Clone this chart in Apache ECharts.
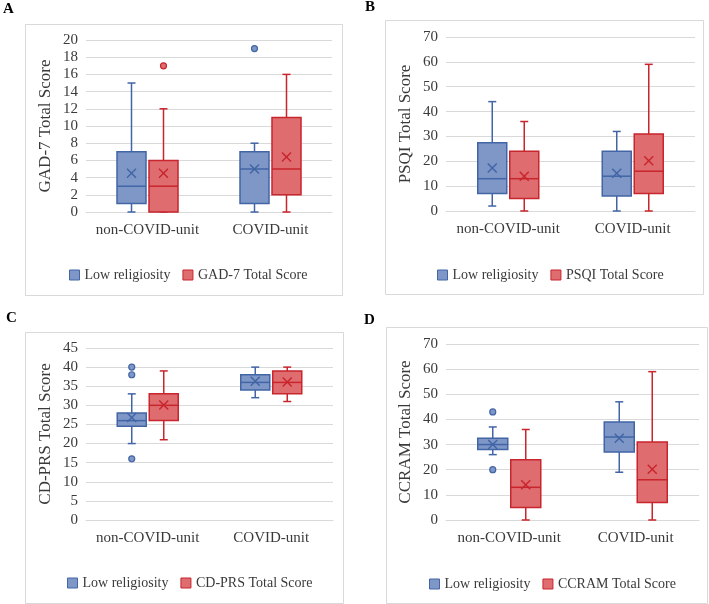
<!DOCTYPE html>
<html><head><meta charset="utf-8">
<script src="https://cdn.jsdelivr.net/npm/echarts@6/dist/echarts.min.js"></script>
<style>html,body{margin:0;padding:0;background:#fff}#c{width:709px;height:604px}</style>
</head><body><div id="c"></div><script>
const categories = ['non-COVID-unit', 'COVID-unit'];
const lowName = 'Low religiosity';
// each row: [min, Q1, median, Q3, max, mean], one row per category
const gadLow = [[0, 1, 3, 7, 15, 4.5], [0, 1, 5, 7, 8, 5.0]];
const gadScore = [[0, 0, 3, 6, 12, 4.5], [0, 2, 5, 11, 16, 6.4]];
const gadLowOut = [[], [19]];
const gadScoreOut = [[17], []];

const psqiLow = [[2, 7, 13, 27.5, 44, 17.3], [0, 6, 14, 24, 32, 15.2]];
const psqiScore = [[0, 5, 13, 24, 36, 14], [0, 7, 16, 31, 59, 20.2]];
const psqiLowOut = [[], []];
const psqiScoreOut = [[], []];

const cdLow = [[20, 24.5, 26, 28, 33, 26.8], [32, 34, 36, 38, 40, 36.3]];
const cdScore = [[21, 26, 30, 33, 39, 30.1], [31, 33, 36, 39, 40, 36.1]];
const cdLowOut = [[40, 38, 16], []];
const cdScoreOut = [[], []];

const ccLow = [[26, 28, 30, 32.5, 37, 30], [19, 27, 33, 39, 47, 32.5]];
const ccScore = [[0, 5, 13, 24, 36, 14], [0, 7, 16, 31, 59, 20.2]];
const ccLowOut = [[43, 20], []];
const ccScoreOut = [[], []];

const yMaxA = 20, yStepA = 2;
const yMaxB = 70, yStepB = 10;
const yMaxC = 45, yStepC = 5;
const yMaxD = 70, yStepD = 10;

const FONT = 'Liberation Serif';
const TXT = '#3a3a3a';
const GRID = '#d9d9d9';
const BLUE_F = '#7e97c7', BLUE_S = '#4265a6';
const RED_F = '#df6d70', RED_S = '#c8252c';

function boxRender(side, fill, stroke) {
  return function (params, api) {
    const cat = api.value(0);
    const band = api.size([1, 0])[0];
    const bw = Math.round(band * 0.236);
    const cx = api.coord([cat, 0])[0] + side * (bw / 2 + 1.5);
    const Y = k => api.coord([cat, api.value(k)])[1];
    const yMin = Y(1), yQ1 = Y(2), yMed = Y(3), yQ3 = Y(4), yMax = Y(5), yMean = Y(6);
    const ls = { stroke: stroke, lineWidth: 1.5 };
    const cap = 4, m = 4.5;
    return { type: 'group', children: [
      { type: 'line', shape: { x1: cx, y1: yMax, x2: cx, y2: yQ3 }, style: ls },
      { type: 'line', shape: { x1: cx, y1: yQ1, x2: cx, y2: yMin }, style: ls },
      { type: 'line', shape: { x1: cx - cap, y1: yMax, x2: cx + cap, y2: yMax }, style: ls },
      { type: 'line', shape: { x1: cx - cap, y1: yMin, x2: cx + cap, y2: yMin }, style: ls },
      { type: 'rect', shape: { x: cx - bw / 2, y: yQ3, width: bw, height: yQ1 - yQ3 }, style: { fill: fill, stroke: stroke, lineWidth: 1.5 } },
      { type: 'line', shape: { x1: cx - bw / 2, y1: yMed, x2: cx + bw / 2, y2: yMed }, style: ls },
      { type: 'line', shape: { x1: cx - m, y1: yMean - m, x2: cx + m, y2: yMean + m }, style: ls },
      { type: 'line', shape: { x1: cx - m, y1: yMean + m, x2: cx + m, y2: yMean - m }, style: ls }
    ] };
  };
}
function outRender(side, fill, stroke) {
  return function (params, api) {
    const cat = api.value(0);
    const band = api.size([1, 0])[0];
    const bw = Math.round(band * 0.236);
    const p = api.coord([cat, api.value(1)]);
    const cx = p[0] + side * (bw / 2 + 1.5);
    return { type: 'circle', shape: { cx: cx, cy: p[1], r: 3 }, style: { fill: fill, stroke: stroke, lineWidth: 1.2 } };
  };
}

const grids = [], xAxes = [], yAxes = [], series = [], legends = [], titles = [];
function panel(idx, g, yMax, yStep, yName, low, score, scoreName, lowOut, scoreOut, leg, letter) {
  grids.push(g);
  xAxes.push({ type: 'category', gridIndex: idx, data: categories,
    axisLine: { lineStyle: { color: GRID, width: 1 } }, axisTick: { show: false },
    axisLabel: { interval: 0, margin: 11, fontFamily: FONT, fontSize: 15, color: TXT } });
  yAxes.push({ type: 'value', gridIndex: idx, min: 0, max: yMax, interval: yStep,
    name: yName, nameLocation: 'middle', nameGap: 32,
    nameTextStyle: { fontFamily: FONT, fontSize: 17, color: TXT },
    axisLine: { show: false }, axisTick: { show: false },
    splitLine: { lineStyle: { color: GRID, width: 1 } },
    axisLabel: { margin: 8, fontFamily: FONT, fontSize: 15, color: TXT } });
  const mk = rows => rows.map((r, i) => [i].concat(r));
  const mo = lists => { const a = []; lists.forEach((l, i) => l.forEach(v => a.push([i, v]))); return a; };
  series.push({ type: 'custom', name: lowName, xAxisIndex: idx, yAxisIndex: idx,
    itemStyle: { color: BLUE_F }, renderItem: boxRender(-1, BLUE_F, BLUE_S),
    encode: { x: 0, y: [1, 2, 3, 4, 5, 6] }, data: mk(low), z: 3 });
  series.push({ type: 'custom', name: scoreName, xAxisIndex: idx, yAxisIndex: idx,
    itemStyle: { color: RED_F }, renderItem: boxRender(1, RED_F, RED_S),
    encode: { x: 0, y: [1, 2, 3, 4, 5, 6] }, data: mk(score), z: 3 });
  series.push({ type: 'custom', name: lowName, xAxisIndex: idx, yAxisIndex: idx,
    itemStyle: { color: BLUE_F }, renderItem: outRender(-1, BLUE_F, BLUE_S),
    encode: { x: 0, y: 1 }, data: mo(lowOut), z: 4 });
  series.push({ type: 'custom', name: scoreName, xAxisIndex: idx, yAxisIndex: idx,
    itemStyle: { color: RED_F }, renderItem: outRender(1, RED_F, RED_S),
    encode: { x: 0, y: 1 }, data: mo(scoreOut), z: 4 });
  legends.push({ left: leg[0], top: leg[1], icon: 'rect', itemWidth: 10, itemHeight: 10, itemGap: 12,
    textStyle: { fontFamily: FONT, fontSize: 14, color: TXT },
    data: [ { name: lowName, itemStyle: { color: BLUE_F, borderColor: BLUE_S, borderWidth: 1 } },
            { name: scoreName, itemStyle: { color: RED_F, borderColor: RED_S, borderWidth: 1 } } ] });
  titles.push({ text: letter[0], left: letter[1], top: letter[2], padding: 0,
    textStyle: { fontFamily: FONT, fontSize: 15, fontWeight: 'bold', color: '#000' } });
}

panel(0, { left: 86, top: 40, width: 246, height: 172 }, yMaxA, yStepA, 'GAD-7 Total Score',
  gadLow, gadScore, 'GAD-7 Total Score', gadLowOut, gadScoreOut, [64, 263], ['A', 3, 2]);
panel(1, { left: 446, top: 37, width: 249, height: 174 }, yMaxB, yStepB, 'PSQI Total Score',
  psqiLow, psqiScore, 'PSQI Total Score', psqiLowOut, psqiScoreOut, [432, 263], ['B', 365, 0]);
panel(2, { left: 86, top: 348, width: 247, height: 172 }, yMaxC, yStepC, 'CD-PRS Total Score',
  cdLow, cdScore, 'CD-PRS Total Score', cdLowOut, cdScoreOut, [62, 571], ['C', 6, 311]);
panel(3, { left: 446, top: 344, width: 253, height: 176 }, yMaxD, yStepD, 'CCRAM Total Score',
  ccLow, ccScore, 'CCRAM Total Score', ccLowOut, ccScoreOut, [424, 572], ['D', 364, 313]);

const frame = (x, y, w, h) => ({ type: 'rect', shape: { x: x + 0.5, y: y + 0.5, width: w, height: h },
  style: { fill: null, stroke: GRID, lineWidth: 1 }, silent: true, z: -1 });

const chart = echarts.init(document.getElementById('c'), null, { renderer: 'canvas' });
chart.setOption({
  animation: false,
  backgroundColor: '#fff',
  title: titles,
  grid: grids, xAxis: xAxes, yAxis: yAxes, series: series, legend: legends,
  graphic: [frame(25, 24, 317, 271), frame(385, 20, 318, 274), frame(25, 332, 318, 271), frame(386, 327, 321, 276)]
});
</script></body></html>
